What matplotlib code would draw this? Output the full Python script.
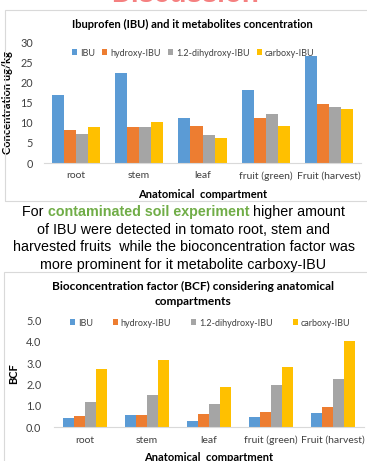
import matplotlib
matplotlib.use("Agg")
import numpy as np
import matplotlib.pyplot as plt
from matplotlib.patches import Rectangle

# compartments and series
compartments = ["root", "stem", "leaf", "fruit (green)", "Fruit (harvest)"]
series = ["IBU", "hydroxy-IBU", "1.2-dihydroxy-IBU", "carboxy-IBU"]
colors = ["#5B9BD5", "#ED7D31", "#A5A5A5", "#FFC000"]

# concentration, ug/kg
conc_ibu = [16.9, 22.4, 11.2, 18.1, 26.5]
conc_hydroxy = [8.3, 9.0, 9.2, 11.2, 14.6]
conc_dihydroxy = [7.2, 9.0, 6.9, 12.2, 13.9]
conc_carboxy = [8.9, 10.2, 6.1, 9.2, 13.3]

# bioconcentration factor
bcf_ibu = [0.45, 0.59, 0.30, 0.49, 0.69]
bcf_hydroxy = [0.52, 0.59, 0.61, 0.72, 0.94]
bcf_dihydroxy = [1.16, 1.49, 1.10, 1.99, 2.26]
bcf_carboxy = [2.73, 3.13, 1.87, 2.82, 4.04]

W, H = 367, 461
fig = plt.figure(figsize=(W / 100, H / 100), dpi=100)
fig.patch.set_facecolor("white")

CHART_FONT = ["Lato", "DejaVu Sans"]
TEXT_COLOR = "#404040"
TICK_SIZE = 7.5
LABEL_SIZE = 8


def px_axes(left, top, right, bottom):
    return fig.add_axes([left / W, 1 - bottom / H, (right - left) / W, (bottom - top) / H])


def fig_box(left, top, right, bottom):
    fig.patches.append(Rectangle((left / W, 1 - bottom / H), (right - left) / W,
                                 (bottom - top) / H, transform=fig.transFigure,
                                 fill=False, edgecolor="#D9D9D9", linewidth=0.8))


def grouped_bars(ax, data, width):
    x = np.arange(len(compartments))
    for k, vals in enumerate(data):
        ax.bar(x + (k - 1.5) * width, vals, width, color=colors[k], label=series[k])
    ax.set_xlim(-0.5, len(compartments) - 0.5)
    ax.set_xticks(x)
    ax.set_xticklabels(compartments, fontsize=TICK_SIZE, family=CHART_FONT, color=TEXT_COLOR)
    for s in ["top", "right", "left"]:
        ax.spines[s].set_visible(False)
    ax.spines["bottom"].set_color("#D9D9D9")
    ax.tick_params(axis="both", length=0, colors=TEXT_COLOR)
    ax.tick_params(axis="x", pad=6)


# red heading, only its lower edge falls inside the canvas
fig.text(185 / W, 1 - 1.5 / H, "Discussion", ha="center", va="baseline", fontsize=20,
         fontweight="bold", color="#F58080", family="Liberation Sans")

# chart 1: concentrations
fig_box(5, 10, 372, 201)
ax1 = px_axes(44, 42.3, 361, 163)
grouped_bars(ax1, [conc_ibu, conc_hydroxy, conc_dihydroxy, conc_carboxy], 0.19)
ax1.set_ylim(0, 30)
ax1.set_yticks(range(0, 31, 5))
ax1.set_yticklabels([str(v) for v in range(0, 31, 5)], fontsize=TICK_SIZE + 0.3,
                    family=CHART_FONT)
ax1.tick_params(axis="y", pad=8)
ax1.set_ylabel("Concentration ug/kg", fontsize=LABEL_SIZE, fontweight="bold", family=CHART_FONT,
               color="black", labelpad=5)
ax1.set_xlabel("Anatomical  compartment", fontsize=LABEL_SIZE, fontweight="bold",
               family=CHART_FONT, color="black", labelpad=6)
ax1.legend(loc="center", bbox_to_anchor=(193 / W, 1 - 53 / H), bbox_transform=fig.transFigure,
           ncol=4, frameon=False, prop={"family": CHART_FONT, "size": 6.5},
           handlelength=0.6, handleheight=0.6, handletextpad=0.3, columnspacing=0.8,
           labelcolor=TEXT_COLOR)
fig.text(192 / W, 1 - 24 / H, "Ibuprofen (IBU) and it metabolites concentration",
         ha="center", va="center", fontsize=8, fontweight="bold", family=CHART_FONT,
         color="black")

# text between the charts, with the highlighted phrase
renderer = fig.canvas.get_renderer()
TXT_FONT = ["Liberation Sans", "DejaVu Sans"]
TXT_SIZE = 10.3


def centered_pieces(y, pieces):
    texts = [fig.text(0, 0, s, fontsize=TXT_SIZE, family=TXT_FONT, color=c, fontweight=w)
             for s, c, w in pieces]
    widths = [t.get_window_extent(renderer).width for t in texts]
    x = W / 2 - sum(widths) / 2
    for t, w in zip(texts, widths):
        t.set_position((x / W, 1 - y / H))
        t.set_va("center")
        x += w


centered_pieces(212, [("For ", "black", "normal"),
                      ("contaminated soil experiment", "#70AD47", "bold"),
                      (" higher amount", "black", "normal")])
centered_pieces(229.5, [("of IBU were detected in tomato root, stem and", "black", "normal")])
centered_pieces(247, [("harvested fruits  while the bioconcentration factor was", "black", "normal")])
centered_pieces(264.5, [("more prominent for it metabolite carboxy-IBU", "black", "normal")])

# chart 2: bioconcentration factor
fig_box(4, 272, 372, 475)
ax2 = px_axes(54, 320.3, 364, 427.3)
grouped_bars(ax2, [bcf_ibu, bcf_hydroxy, bcf_dihydroxy, bcf_carboxy], 0.18)
ax2.set_ylim(0, 5)
ax2.set_yticks(np.arange(0, 5.1, 1.0))
ax2.set_yticklabels([f"{v:.1f}" for v in np.arange(0, 5.1, 1.0)], fontsize=TICK_SIZE + 0.3,
                    family=CHART_FONT)
ax2.tick_params(axis="y", pad=9)
ax2.set_ylabel("BCF", fontsize=LABEL_SIZE, fontweight="bold", family=CHART_FONT, color="black",
               labelpad=5)
ax2.set_xlabel("Anatomical  compartment", fontsize=LABEL_SIZE, fontweight="bold",
               family=CHART_FONT, color="black", labelpad=5)
ax2.legend(loc="center", bbox_to_anchor=(210 / W, 1 - 323 / H), bbox_transform=fig.transFigure,
           ncol=4, frameon=False, prop={"family": CHART_FONT, "size": 6.5},
           handlelength=0.6, handleheight=0.6, handletextpad=0.3, columnspacing=2.2,
           labelcolor=TEXT_COLOR)
for y, line in [(286.5, "Bioconcentration factor (BCF) considering anatomical"),
                (301.5, "compartments")]:
    fig.text(193 / W, 1 - y / H, line, ha="center", va="center", fontsize=8.6,
             fontweight="bold", family=CHART_FONT, color="black")

fig.savefig("out.png", dpi=100, facecolor="white")
